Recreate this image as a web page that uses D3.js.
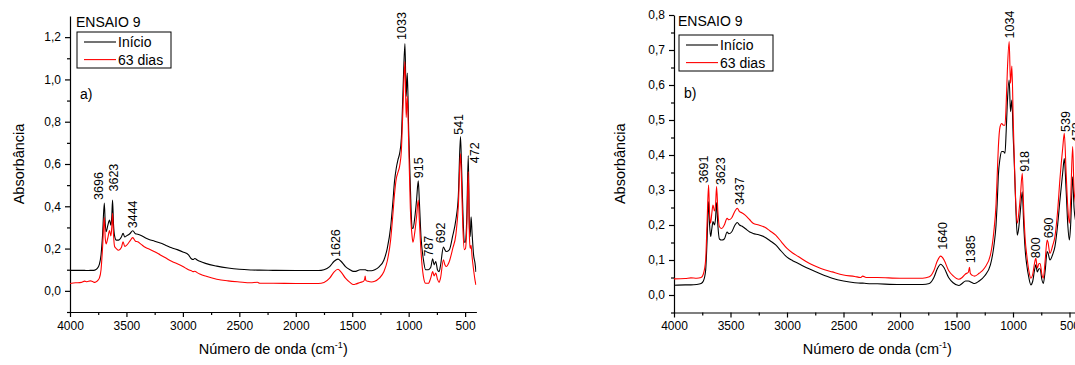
<!DOCTYPE html>
<html><head><meta charset="utf-8">
<script src="https://cdn.jsdelivr.net/npm/d3@7"></script>
<style>
body{margin:0;background:#fff;}
svg{display:block;font-family:"Liberation Sans",Arial,sans-serif;}
</style></head>
<body>
<script>
// ---------- DATA ----------
const xTickValues = [4000,3500,3000,2500,2000,1500,1000,500];
const seriesNames = ["Início","63 dias"];
const panelTitles = ["ENSAIO 9","ENSAIO 9"];
const panelLetters = ["a)","b)"];

// Panel a
const wnA = [4000,3950,3900,3870,3850,3820,3800,3780,3760,3740,3725,3712,3696,3688,3680,3665,3650,3638,3630,3623,3615,3605,3590,3570,3545,3530,3515,3500,3470,3444,3420,3400,3370,3330,3300,3250,3200,3150,3100,3050,3000,2950,2925,2910,2895,2870,2850,2800,2700,2600,2500,2400,2340,2320,2200,2000,1800,1750,1700,1660,1626,1600,1560,1520,1490,1470,1430,1400,1390,1385,1380,1360,1330,1300,1260,1220,1190,1160,1140,1125,1110,1095,1080,1065,1050,1033,1022,1012,1000,985,970,962,945,930,915,905,890,870,850,825,805,787,775,760,745,730,718,692,680,668,640,610,582,560,541,532,520,507,497,485,472,462,455,447,438,425,412,404];
const inicioA = [0.097,0.097,0.097,0.097,0.096,0.097,0.097,0.098,0.105,0.125,0.170,0.260,0.415,0.320,0.280,0.310,0.335,0.310,0.350,0.430,0.320,0.260,0.240,0.240,0.255,0.272,0.255,0.260,0.270,0.284,0.270,0.268,0.262,0.250,0.243,0.235,0.226,0.215,0.204,0.195,0.184,0.170,0.152,0.148,0.153,0.145,0.140,0.130,0.117,0.108,0.102,0.099,0.098,0.098,0.097,0.096,0.096,0.100,0.115,0.140,0.150,0.140,0.115,0.100,0.092,0.092,0.100,0.100,0.100,0.100,0.099,0.095,0.095,0.100,0.115,0.145,0.200,0.300,0.420,0.520,0.580,0.620,0.650,0.720,0.950,1.170,0.920,1.030,0.760,0.490,0.300,0.295,0.350,0.430,0.520,0.420,0.250,0.150,0.100,0.100,0.110,0.152,0.123,0.139,0.100,0.091,0.120,0.207,0.195,0.186,0.194,0.260,0.336,0.450,0.730,0.600,0.380,0.230,0.230,0.350,0.640,0.300,0.257,0.350,0.270,0.170,0.130,0.090];
const dias63A = [0.035,0.038,0.040,0.046,0.043,0.047,0.044,0.040,0.046,0.060,0.100,0.200,0.347,0.250,0.222,0.250,0.285,0.260,0.300,0.367,0.270,0.210,0.200,0.192,0.205,0.232,0.210,0.215,0.235,0.252,0.235,0.232,0.220,0.205,0.198,0.185,0.170,0.155,0.140,0.128,0.115,0.100,0.095,0.091,0.093,0.085,0.080,0.070,0.055,0.047,0.042,0.038,0.041,0.036,0.036,0.035,0.035,0.040,0.060,0.090,0.102,0.090,0.060,0.040,0.030,0.032,0.040,0.045,0.055,0.070,0.050,0.045,0.042,0.045,0.060,0.090,0.140,0.240,0.360,0.460,0.530,0.560,0.590,0.660,0.870,1.084,0.820,0.920,0.700,0.390,0.260,0.230,0.280,0.350,0.430,0.330,0.180,0.070,0.036,0.036,0.060,0.091,0.071,0.084,0.055,0.040,0.060,0.147,0.125,0.115,0.139,0.200,0.265,0.400,0.650,0.520,0.300,0.195,0.200,0.300,0.564,0.260,0.200,0.215,0.160,0.100,0.050,0.028];
const peakLabelsA   = ["3696","3623","3444","1626","1033","915","787","692","541","472"];
const labelAnchorWnA = [3723,3593,3424,1626,1042,888,802,696,537,392];
const peakLabelYA   = [0.43,0.47,0.296,0.16,1.187,0.533,0.162,0.225,0.738,0.604];
const yTicksA = [0,0.2,0.4,0.6,0.8,1.0,1.2];

// Panel b
const wnB = [4000,3900,3850,3800,3760,3740,3720,3708,3694,3685,3676,3665,3655,3642,3632,3623,3612,3598,3578,3555,3530,3515,3490,3460,3440,3420,3400,3370,3330,3300,3250,3200,3150,3100,3050,3000,2950,2900,2800,2700,2600,2500,2400,2350,2330,2300,2200,2000,1800,1740,1700,1670,1640,1610,1570,1530,1480,1450,1420,1395,1385,1378,1360,1340,1300,1250,1200,1170,1150,1140,1130,1115,1100,1085,1071,1060,1050,1034,1022,1010,998,990,975,962,950,935,918,905,890,880,860,842,825,810,798,785,770,760,745,732,715,698,690,673,650,629,605,585,560,546,530,515,501,490,472,460,440,420,400];
const inicioB = [0.028,0.029,0.029,0.030,0.033,0.040,0.070,0.150,0.267,0.200,0.167,0.190,0.210,0.200,0.220,0.264,0.200,0.160,0.157,0.160,0.180,0.175,0.180,0.200,0.207,0.200,0.197,0.190,0.180,0.176,0.172,0.166,0.155,0.143,0.125,0.108,0.098,0.090,0.074,0.060,0.048,0.040,0.035,0.034,0.034,0.033,0.032,0.030,0.030,0.033,0.050,0.075,0.088,0.078,0.050,0.035,0.027,0.033,0.040,0.040,0.039,0.038,0.035,0.033,0.040,0.055,0.086,0.138,0.200,0.260,0.340,0.390,0.410,0.410,0.405,0.470,0.550,0.614,0.524,0.557,0.450,0.390,0.250,0.171,0.190,0.240,0.295,0.200,0.120,0.090,0.050,0.029,0.040,0.070,0.086,0.066,0.075,0.075,0.045,0.033,0.070,0.124,0.120,0.100,0.115,0.138,0.200,0.270,0.350,0.390,0.300,0.200,0.157,0.200,0.338,0.250,0.200,0.150,0.120];
const dias63B = [0.046,0.047,0.049,0.048,0.050,0.060,0.100,0.200,0.314,0.230,0.205,0.235,0.257,0.240,0.260,0.310,0.240,0.195,0.190,0.200,0.219,0.215,0.220,0.240,0.248,0.238,0.235,0.228,0.215,0.205,0.200,0.194,0.183,0.171,0.152,0.133,0.120,0.110,0.090,0.076,0.066,0.057,0.053,0.050,0.054,0.050,0.050,0.048,0.048,0.052,0.070,0.097,0.111,0.100,0.070,0.055,0.045,0.050,0.060,0.065,0.079,0.062,0.056,0.054,0.062,0.078,0.114,0.180,0.260,0.340,0.420,0.480,0.490,0.485,0.485,0.550,0.640,0.724,0.605,0.654,0.500,0.405,0.260,0.205,0.230,0.280,0.348,0.240,0.150,0.119,0.070,0.048,0.060,0.090,0.105,0.077,0.090,0.090,0.060,0.048,0.100,0.157,0.150,0.119,0.140,0.167,0.240,0.330,0.420,0.462,0.350,0.250,0.205,0.270,0.424,0.300,0.250,0.200,0.150];
const peakLabelsB   = ["3691","3623","3437","1640","1385","1034","918","800","690","539","472"];
const labelAnchorWnB = [3717,3566,3398,1604,1354,1009,873,779,666,513,416];
const peakLabelYB   = [0.319,0.314,0.257,0.129,0.091,0.733,0.352,0.105,0.162,0.466,0.434];
const yTicksB = [0,0.1,0.2,0.3,0.4,0.5,0.6,0.7,0.8];

// ---------- DRAW ----------
const W = 1075, H = 365;
const svg = d3.select("body").append("svg").attr("width", W).attr("height", H);
const fmt = v => d3.format(".1f")(v).replace(".", ",");

function panel(cfg){
  const x = d3.scaleLinear().domain(cfg.xDomain).range(cfg.xRange);
  const y = d3.scaleLinear().domain(cfg.yDomain).range(cfg.yRange);
  const g = svg.append("g");
  const y0 = cfg.yRange[0];

  // minor ticks
  const xMinor = d3.range(4000, cfg.xDomain[1]-1, -250).filter(v => !xTickValues.includes(v));
  g.append("g").attr("transform", `translate(0,${y0})`)
    .call(d3.axisBottom(x).tickValues(xMinor).tickSize(3).tickFormat(""))
    .call(a => a.select(".domain").remove());
  g.append("g").attr("transform", `translate(${cfg.xRange[0]},0)`)
    .call(d3.axisLeft(y).tickValues(cfg.yMinor).tickSize(3).tickFormat(""))
    .call(a => a.select(".domain").remove());

  // major axes
  const ax = g.append("g").attr("transform", `translate(0,${y0})`)
    .call(d3.axisBottom(x).tickValues(xTickValues).tickSize(5).tickSizeOuter(0).tickPadding(4).tickFormat(d3.format("d")));
  ax.selectAll("text").attr("font-size", 12).attr("fill","#000").attr("font-family","Liberation Sans, Arial");
  const ay = g.append("g").attr("transform", `translate(${cfg.xRange[0]},0)`)
    .call(d3.axisLeft(y).tickValues(cfg.yTicks).tickSize(5).tickSizeOuter(0).tickPadding(4).tickFormat(fmt));
  ay.selectAll("text").attr("font-size", 12).attr("fill","#000").attr("font-family","Liberation Sans, Arial");
  g.selectAll(".domain, .tick line").attr("stroke","#000").attr("stroke-width",1.2);

  // curves
  const line = d3.line().x(d => x(d[0])).y(d => y(d[1])).curve(d3.curveMonotoneX);
  const cid = "clip"+cfg.id;
  svg.append("clipPath").attr("id", cid).append("rect")
    .attr("x", cfg.xRange[0]).attr("y", 0).attr("width", cfg.xRange[1]-cfg.xRange[0]).attr("height", y0);
  const lg = g.append("g").attr("clip-path", `url(#${cid})`);
  lg.append("path").datum(d3.zip(cfg.wn, cfg.s1)).attr("d", line)
    .attr("fill","none").attr("stroke","#000").attr("stroke-width",1.1);
  lg.append("path").datum(d3.zip(cfg.wn, cfg.s2)).attr("d", line)
    .attr("fill","none").attr("stroke","#ff0000").attr("stroke-width",1.1);

  // peak labels
  cfg.labels.forEach((t,i) => {
    const px = x(cfg.labelWn[i]) + 2, py = y(cfg.labelY[i]);
    g.append("text").attr("transform", `translate(${px},${py}) rotate(-90)`)
      .attr("font-size", 12.5).attr("fill","#000").text(t);
  });

  // axis titles
  const xt = g.append("text").attr("x", (cfg.xRange[0]+cfg.xRange[1])/2).attr("y", 354)
    .attr("text-anchor","middle").attr("font-size",14.5).attr("fill","#000");
  xt.append("tspan").text("Número de onda (cm");
  xt.append("tspan").attr("dy",-6).attr("font-size",9).text("-1");
  xt.append("tspan").attr("dy",6).text(")");
  g.append("text").attr("transform", `translate(${cfg.ytX},${(cfg.yRange[0]+cfg.yRange[1])/2}) rotate(-90)`)
    .attr("text-anchor","middle").attr("font-size",14.5).attr("fill","#000").text("Absorbância");

  // legend
  const lx = cfg.xRange[0], ly = cfg.yRange[1];
  g.append("text").attr("x", lx+cfg.leg.tx).attr("y", ly+cfg.leg.ty).attr("font-size",14).attr("fill","#000").text(cfg.title);
  g.append("rect").attr("x", lx+cfg.leg.bx).attr("y", ly+cfg.leg.by).attr("width",94).attr("height",36)
    .attr("fill","#fff").attr("stroke","#000").attr("stroke-width",1);
  [["#000",0],["#ff0000",1]].forEach(([c,i]) => {
    const yy = ly + cfg.leg.by + 10 + i*17.6;
    g.append("line").attr("x1", lx+cfg.leg.bx+7).attr("x2", lx+cfg.leg.bx+39).attr("y1", yy).attr("y2", yy)
      .attr("stroke", c).attr("stroke-width",1.1);
    g.append("text").attr("x", lx+cfg.leg.bx+41).attr("y", yy+5).attr("font-size",14).attr("fill","#000").text(seriesNames[i]);
  });
  g.append("text").attr("x", lx+cfg.leg.ax).attr("y", ly+cfg.leg.ay).attr("font-size",14).attr("fill","#000").text(cfg.letter);
}

panel({id:"A", xDomain:[4000,400], xRange:[70,476.4], yDomain:[-0.1,1.3], yRange:[312,16],
  yTicks:yTicksA, yMinor:[-0.1,0.1,0.3,0.5,0.7,0.9,1.1],
  wn:wnA, s1:inicioA, s2:dias63A, labels:peakLabelsA, labelWn:labelAnchorWnA, labelY:peakLabelYA,
  title:panelTitles[0], letter:panelLetters[0], ytX:24,
  leg:{tx:6, ty:11, bx:7, by:16, ax:10, ay:83}});
panel({id:"B", xDomain:[4000,400], xRange:[674,1080.8], yDomain:[-0.05,0.8], yRange:[312.5,15],
  yTicks:yTicksB, yMinor:[-0.05,0.05,0.15,0.25,0.35,0.45,0.55,0.65,0.75],
  wn:wnB, s1:inicioB, s2:dias63B, labels:peakLabelsB, labelWn:labelAnchorWnB, labelY:peakLabelYB,
  title:panelTitles[1], letter:panelLetters[1], ytX:625,
  leg:{tx:4, ty:11, bx:5, by:20, ax:10, ay:83}});
</script>
</body></html>
